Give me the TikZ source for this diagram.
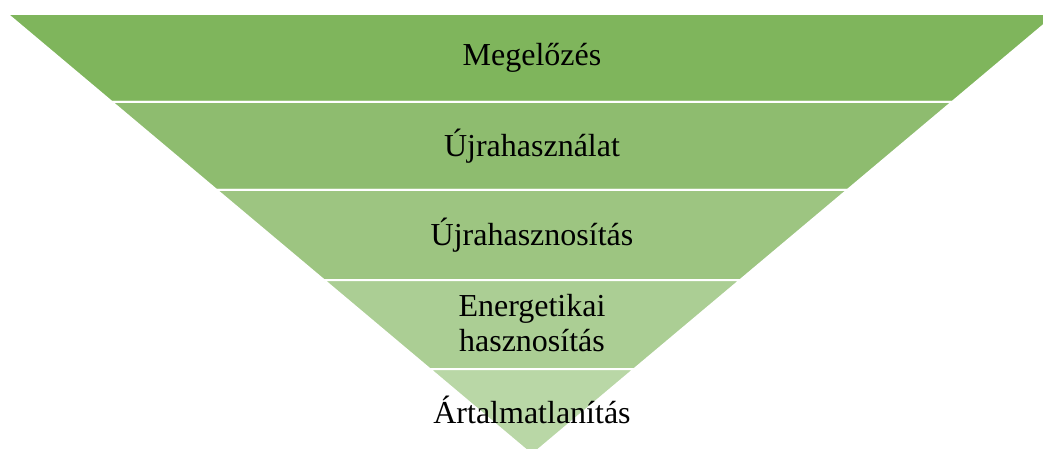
\documentclass[tikz,border=0pt]{standalone}
\usepackage{fontspec}
\setmainfont{Liberation Serif}
\definecolor{tierA}{RGB}{127,181,92}
\definecolor{tierB}{RGB}{142,188,111}
\definecolor{tierC}{RGB}{157,197,129}
\definecolor{tierD}{RGB}{171,206,148}
\definecolor{tierE}{RGB}{185,215,166}
\tikzset{
  tier/.style={draw=white, line width=1.5pt},
  tiertext/.style={font=\fontsize{24}{26.5}\selectfont, align=center, text=black}
}
\begin{document}
\begin{tikzpicture}[x=0.75pt, y=-0.75pt]
%% The page is the size of the picture: the inverted pyramid runs past its right and bottom edges, so clip it there.
  \useasboundingbox (0,0) rectangle (1043,449);
  \clip (0,0) rectangle (1043,449);
  \begin{scope}
%% One trapezoid per level, from the widest at the top to the tip at the bottom.
    \draw[tier, fill=tierA] (7.2,14) -- (1056.8,14) -- (952.1,102) -- (111.9,102) -- cycle;
    \draw[tier, fill=tierB] (111.9,102) -- (952.1,102) -- (847.4,190) -- (216.6,190) -- cycle;
    \draw[tier, fill=tierC] (216.6,190) -- (847.4,190) -- (740.3,280) -- (323.8,280) -- cycle;
    \draw[tier, fill=tierD] (323.8,280) -- (740.3,280) -- (634.3,369) -- (429.7,369) -- cycle;
    \draw[tier, fill=tierE] (429.7,369) -- (634.3,369) -- (532,455) -- cycle;
%% Level names, centred on the axis of the pyramid.
    \node[tiertext] (megelozes) at (532,58) {Megelőzés};
    \node[tiertext] (ujrahasznalat) at (532,146) {Újrahasználat};
    \node[tiertext] (ujrahasznositas) at (532,235) {Újrahasznosítás};
    \node[tiertext] (energetikai) at (532,323) {Energetikai\\hasznosítás};
    \node[tiertext] (artalmatlanitas) at (532,410) {Ártalmatlanítás};
  \end{scope}
\end{tikzpicture}
\end{document}
